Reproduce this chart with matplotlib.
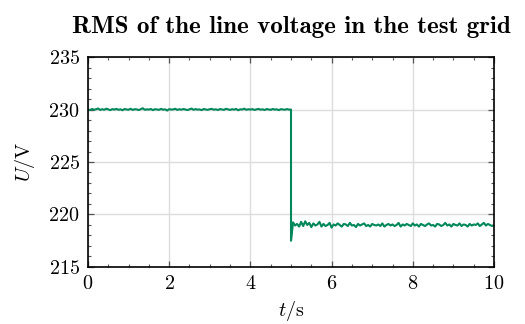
import numpy as np
import matplotlib
matplotlib.use("Agg")
import matplotlib.pyplot as plt
from matplotlib.ticker import MultipleLocator

plt.rcParams['font.family'] = 'serif'
plt.rcParams['font.serif'] = ['cmr10']
plt.rcParams['mathtext.fontset'] = 'cm'
plt.rcParams['axes.formatter.use_mathtext'] = True

title = "RMS of the line voltage in the test grid"
xlabel = "$t$/s"
ylabel = "$U$/V"

t_step = 0.05
t_switch = 5.0
u_spike = 217.5

u_pre = [230.00, 229.95, 230.05, 229.98, 230.02, 230.10, 229.96, 230.03, 229.97, 230.08,
         230.01, 229.94, 230.04, 229.99, 230.06, 229.97, 230.02, 229.93, 230.05, 230.00,
         229.98, 230.07, 229.96, 230.03, 230.01, 229.95, 230.04, 230.12, 229.97, 230.02,
         229.99, 230.05, 229.94, 230.03, 230.00, 229.97, 230.06, 229.98, 230.02, 229.90,
         230.04, 229.99, 230.01, 230.07, 229.96, 230.03, 229.98, 230.05, 230.00, 229.95,
         230.02, 230.09, 229.97, 230.04, 229.99, 230.01, 229.94, 230.05, 230.00, 229.97,
         230.03, 230.06, 229.98, 230.02, 229.95, 230.04, 230.00, 229.97, 230.07, 230.01,
         229.96, 230.03, 229.99, 230.05, 229.93, 230.02, 230.00, 230.08, 229.97, 230.03,
         229.99, 230.04, 229.96, 230.01, 230.06, 229.98, 230.02, 229.95, 230.04, 230.00,
         229.97, 230.05, 229.99, 230.02, 229.94, 230.03, 230.00, 229.98, 230.04, 229.99,
         230.00]

u_post = [219.25, 218.95, 219.10, 218.85, 219.30, 218.90, 219.35, 219.00, 219.20, 218.80,
          219.15, 218.95, 219.05, 219.30, 218.85, 219.10, 218.90, 219.00, 219.20, 218.75,
          219.05, 218.95, 219.15, 219.00, 218.85, 219.10, 219.05, 218.90, 219.20, 218.95,
          219.00, 218.80, 219.10, 218.95, 219.05, 219.15, 218.90, 219.00, 218.85, 219.10,
          219.00, 218.95, 219.05, 218.90, 219.15, 218.85, 219.00, 219.10, 218.95, 219.05,
          218.90, 219.00, 219.20, 218.85, 219.05, 218.95, 219.10, 219.00, 218.90, 219.15,
          218.95, 219.05, 218.85, 219.10, 219.00, 218.90, 219.05, 219.15, 218.95, 219.00,
          218.85, 219.10, 219.05, 218.90, 219.00, 219.20, 218.95, 219.05, 218.85, 219.10,
          219.00, 218.95, 219.15, 218.90, 219.05, 219.00, 218.85, 219.10, 218.95, 219.05,
          219.00, 219.15, 218.90, 219.05, 219.20, 218.95, 219.10, 219.00, 218.90, 219.00]

t_pre = np.arange(len(u_pre)) * t_step
t_post = t_switch + (np.arange(len(u_post)) + 1) * t_step
t = np.concatenate([t_pre, [t_switch], t_post])
u = np.concatenate([u_pre, [u_spike], u_post])

fig = plt.figure(figsize=(5.25, 3.24), dpi=100)
ax = fig.add_axes([0.1676, 0.176, 0.7734, 0.648])
ax.plot(t, u, color='#00875a', lw=1.5, zorder=3)

ax.set_xlim(0, 10)
ax.set_ylim(215, 235)
ax.xaxis.set_major_locator(MultipleLocator(2))
ax.xaxis.set_minor_locator(MultipleLocator(0.5))
ax.yaxis.set_major_locator(MultipleLocator(5))
ax.yaxis.set_minor_locator(MultipleLocator(1))
ax.grid(True, which='major', color='#dddddd', lw=1.0, zorder=0)
ax.tick_params(which='both', direction='in', top=True, right=True, color='#555555',
               labelsize=14.5, pad=6)
ax.tick_params(which='major', length=4.5, width=0.9)
ax.tick_params(which='minor', length=2.5, width=0.8)
for s in ax.spines.values():
    s.set_linewidth(1.2)
    s.set_zorder(4)

ax.set_xlabel(xlabel, fontsize=14.5, labelpad=4)
ax.set_ylabel(ylabel, fontsize=14.5, labelpad=8)
ax.set_title(title, fontsize=18, family='cmb10', pad=17)

fig.savefig("out.png", dpi=100)
